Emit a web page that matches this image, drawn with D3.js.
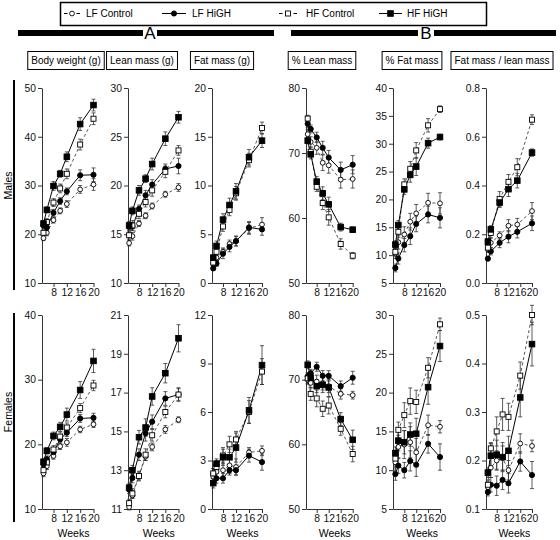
<!DOCTYPE html>
<html><head><meta charset="utf-8">
<script src="https://cdn.jsdelivr.net/npm/d3@7"></script>
<style>body{margin:0;background:#fff}svg{display:block;font-family:"Liberation Sans",Arial,Helvetica,sans-serif}</style>
</head><body><svg id="c" width="560" height="540"></svg>
<script>
// ---------------- DATA ----------------
const weeks = [5, 6, 8, 10, 12, 16, 20];
const weeksMaleRatio = [5, 6, 9, 12, 15, 20];
const seriesNames = ["LF Control", "LF HiGH", "HF Control", "HF HiGH"];
const panelTitles = ["Body weight (g)", "Lean mass (g)", "Fat mass (g)", "% Lean mass", "% Fat mass", "Fat mass / lean mass"];
const sectionLabels = ["A", "B"];
const rowLabels = ["Males", "Females"];
const xTickValues = [8, 12, 16, 20];
const xAxisLabel = "Weeks";
const yTicksMale = [[10,20,30,40,50],[10,15,20,25,30],[0,5,10,15,20],[50,60,70,80],[5,10,15,20,25,30,35,40],[0,0.2,0.4,0.6,0.8]];
const yTicksFemale = [[10,20,30,40],[11,13,15,17,19,21],[0,3,6,9,12],[50,60,70,80],[5,10,15,20,25,30],[0.1,0.2,0.3,0.4,0.5]];

// [mean, SE] per week ; series order: LF Control, LF HiGH, HF Control, HF HiGH
// Males - body weight
const mBW_LFC = [[19.2,.5],[20.3,.6],[22.9,.6],[24.8,.6],[26.2,.7],[29.2,.8],[30.2,1.2]];
const mBW_LFH = [[21.8,.6],[21.4,.6],[24.4,.7],[26.8,.7],[28.8,.7],[32.1,1.1],[32.2,1.4]];
const mBW_HFC = [[20.3,.6],[22.5,.7],[26.5,.8],[29.4,.9],[32.4,1.0],[38.4,1.1],[43.7,1.2]];
const mBW_HFH = [[22.2,.6],[25.0,.6],[29.9,.9],[32.4,.7],[35.9,1.0],[42.6,1.3],[46.5,1.2]];
// Males - lean mass
const mLM_LFC = [[14.1,.3],[14.8,.4],[16.1,.3],[16.9,.3],[17.9,.3],[19.1,.3],[19.8,.4]];
const mLM_LFH = [[15.8,.4],[15.8,.4],[17.6,.4],[19.0,.5],[20.1,.5],[21.7,.5],[22.0,.8]];
const mLM_HFC = [[14.9,.4],[15.9,.5],[17.1,.5],[18.3,.5],[19.5,.6],[21.4,.6],[23.6,.5]];
const mLM_HFH = [[15.9,.4],[17.4,.4],[19.5,.5],[20.7,.4],[22.2,.6],[24.8,.7],[27.0,.6]];
// Males - fat mass
const mFM_LFC = [[2.0,.2],[2.6,.3],[3.2,.4],[4.0,.4],[4.3,.5],[5.6,.6],[6.0,.7]];
const mFM_LFH = [[1.5,.2],[2.0,.3],[3.0,.5],[3.7,.5],[4.3,.5],[5.7,.6],[5.5,.6]];
const mFM_HFC = [[2.1,.3],[3.2,.4],[5.8,.5],[7.5,.6],[9.2,.7],[12.6,.7],[15.9,.6]];
const mFM_HFH = [[2.6,.3],[3.8,.5],[6.5,.6],[8.0,.7],[9.4,.8],[12.9,.8],[14.6,.7]];
// Males - % lean
const mPL_LFC = [[72.9,.7],[71.7,.8],[70.8,1.0],[68.5,1.2],[68.1,1.2],[65.9,1.3],[66.0,1.4]];
const mPL_LFH = [[74.5,.6],[73.7,.6],[72.4,.8],[70.8,1.0],[69.3,1.1],[67.4,1.2],[68.2,1.4]];
const mPL_HFC = [[75.3,.5],[70.2,.7],[64.8,.7],[62.3,1.0],[60.1,1.2],[56.0,.8],[54.2,.5]];
const mPL_HFH = [[71.9,.5],[69.8,.7],[65.6,.8],[63.8,1.0],[62.1,1.1],[58.6,.6],[58.2,.4]];
// Males - % fat
const mPF_LFC = [[10.3,.9],[12.3,1.2],[13.7,1.4],[16.0,1.5],[17.5,1.6],[19.4,1.7],[19.3,1.9]];
const mPF_LFH = [[7.7,.7],[9.4,1.0],[11.8,1.2],[13.4,1.5],[15.6,1.4],[17.3,1.5],[16.7,1.8]];
const mPF_HFC = [[10.6,.8],[14.2,1.0],[22.7,1.0],[25.5,1.3],[28.8,1.4],[33.3,1.2],[36.2,.6]];
const mPF_HFH = [[11.9,.7],[15.4,.8],[21.8,.9],[24.4,1.3],[25.9,1.6],[30.1,.9],[31.2,.5]];
// Males - fat / lean ratio
const mRT_LFC = [[.14,.015],[.165,.02],[.195,.015],[.235,.025],[.24,.025],[.295,.035]];
const mRT_LFH = [[.10,.008],[.13,.015],[.165,.02],[.19,.025],[.21,.025],[.245,.03]];
const mRT_HFC = [[.145,.015],[.205,.02],[.345,.03],[.415,.03],[.475,.035],[.67,.02]];
const mRT_HFH = [[.17,.012],[.22,.015],[.33,.02],[.385,.03],[.42,.03],[.535,.015]];
// Females - body weight
const fBW_LFC = [[15.5,.5],[16.6,.5],[18.2,.5],[19.7,.5],[20.3,.6],[22.3,.5],[23.1,.5]];
const fBW_LFH = [[16.9,.5],[17.7,.5],[18.8,.5],[20.8,.6],[21.8,.6],[24.0,.6],[24.1,.7]];
const fBW_HFC = [[16.0,.5],[17.2,.5],[19.2,.6],[21.2,.7],[22.6,.7],[25.6,.7],[29.1,.8]];
const fBW_HFH = [[17.3,.5],[19.0,.5],[21.3,.6],[22.7,.7],[24.6,1.0],[28.4,1.3],[32.9,1.8]];
// Females - lean mass
const fLM_LFC = [[11.1,.15],[11.7,.15],[12.7,.2],[13.7,.2],[14.2,.2],[15.1,.2],[15.6,.15]];
const fLM_LFH = [[12.0,.2],[12.6,.25],[13.8,.3],[14.9,.4],[15.5,.35],[16.7,.35],[16.9,.35]];
const fLM_HFC = [[11.3,.2],[11.8,.25],[12.7,.25],[13.8,.3],[14.8,.3],[16.0,.3],[16.9,.3]];
const fLM_HFH = [[12.1,.2],[13.0,.25],[14.7,.35],[15.2,.45],[16.8,.45],[18.0,.5],[19.8,.7]];
// Females - fat mass
const fFM_LFC = [[2.0,.3],[2.3,.4],[2.4,.5],[2.7,.5],[2.6,.5],[3.5,.3],[3.6,.3]];
const fFM_LFH = [[2.2,.3],[1.9,.3],[1.9,.3],[2.4,.3],[2.4,.3],[3.3,.4],[2.9,.5]];
const fFM_HFC = [[2.2,.3],[2.6,.4],[3.3,.5],[4.0,.5],[4.3,.5],[6.0,.7],[8.5,.8]];
const fFM_HFH = [[1.6,.3],[2.8,.3],[3.2,.5],[3.2,.5],[3.8,.9],[6.1,.8],[8.9,1.2]];
// Females - % lean
const fPL_LFC = [[70.0,.7],[69.5,.8],[69.7,1.0],[69.4,1.0],[69.0,1.0],[67.8,.8],[67.6,.6]];
const fPL_LFH = [[70.5,.6],[71.0,.6],[72.0,.7],[70.6,.8],[70.6,.8],[69.0,.8],[70.3,1.0]];
const fPL_HFC = [[70.2,.8],[67.8,1.0],[67.1,1.3],[65.5,1.2],[66.0,1.3],[62.4,1.0],[58.5,1.2]];
const fPL_HFH = [[72.3,.6],[70.3,.8],[69.0,1.0],[69.2,1.2],[68.8,1.4],[63.9,1.0],[60.7,1.5]];
// Females - % fat
const fPF_LFC = [[11.0,1.0],[13.0,1.5],[13.3,1.8],[13.6,2.0],[12.3,1.8],[15.8,1.3],[15.6,.8]];
const fPF_LFH = [[9.5,.8],[10.6,1.0],[10.0,1.0],[11.2,1.3],[10.7,1.5],[13.4,1.2],[11.7,1.7]];
const fPF_HFC = [[11.5,1.0],[15.2,1.0],[17.1,1.6],[18.9,1.7],[18.8,1.5],[23.2,1.3],[28.8,.8]];
const fPF_HFH = [[12.2,.8],[13.8,1.3],[13.6,1.5],[14.6,1.5],[14.7,2.0],[20.7,2.2],[26.0,2.0]];
// Females - fat / lean ratio
const fRT_LFC = [[.145,.01],[.185,.02],[.20,.02],[.205,.025],[.18,.02],[.235,.02],[.23,.012]];
const fRT_LFH = [[.135,.008],[.15,.015],[.148,.02],[.16,.02],[.153,.02],[.198,.02],[.17,.028]];
const fRT_HFC = [[.15,.01],[.225,.012],[.26,.03],[.295,.033],[.29,.028],[.375,.028],[.50,.02]];
const fRT_HFH = [[.175,.01],[.21,.025],[.212,.03],[.207,.03],[.22,.03],[.33,.04],[.44,.045]];

// ---------------- LAYOUT ----------------
const cols = [
  {x0:42,  x8:53.5,  x20:93.5, tc:66},
  {x0:128, x8:139,   x20:178.5, tc:142},
  {x0:212, x8:223,   x20:262,  tc:222},
  {x0:306, x8:316.7, x20:352.7, tc:322},
  {x0:393, x8:404.3, x20:440,  tc:412},
  {x0:486, x8:496.7, x20:532,  tc:502}
];
const rows = [{top:88, bot:283, line:[80,290]}, {top:315, bot:509, line:[313,522]}];

const panelData = [
  [[mBW_LFC,mBW_LFH,mBW_HFC,mBW_HFH],[mLM_LFC,mLM_LFH,mLM_HFC,mLM_HFH],[mFM_LFC,mFM_LFH,mFM_HFC,mFM_HFH],
   [mPL_LFC,mPL_LFH,mPL_HFC,mPL_HFH],[mPF_LFC,mPF_LFH,mPF_HFC,mPF_HFH],[mRT_LFC,mRT_LFH,mRT_HFC,mRT_HFH]],
  [[fBW_LFC,fBW_LFH,fBW_HFC,fBW_HFH],[fLM_LFC,fLM_LFH,fLM_HFC,fLM_HFH],[fFM_LFC,fFM_LFH,fFM_HFC,fFM_HFH],
   [fPL_LFC,fPL_LFH,fPL_HFC,fPL_HFH],[fPF_LFC,fPF_LFH,fPF_HFC,fPF_HFH],[fRT_LFC,fRT_LFH,fRT_HFC,fRT_HFH]]
];
const panelWeeks = [[weeks,weeks,weeks,weeks,weeks,weeksMaleRatio],[weeks,weeks,weeks,weeks,weeks,weeks]];
const yTicks = [yTicksMale, yTicksFemale];

const style = [
  {dash:"3,2.5", filled:false, shape:"circle", stroke:"#555"},
  {dash:null,    filled:true,  shape:"circle", stroke:"#000"},
  {dash:"3,2.5", filled:false, shape:"square", stroke:"#555"},
  {dash:null,    filled:true,  shape:"square", stroke:"#000"}
];

const svg = d3.select("#c");

function marker(g, shape, filled, cx, cy) {
  if (shape === "circle") {
    g.append("circle").attr("cx", cx).attr("cy", cy).attr("r", filled ? 2.6 : 2.4)
      .attr("fill", filled ? "#000" : "#fff").attr("stroke", "#000").attr("stroke-width", 0.9);
  } else {
    const s = filled ? 5.6 : 5;
    g.append("rect").attr("x", cx - s/2).attr("y", cy - s/2).attr("width", s).attr("height", s)
      .attr("fill", filled ? "#000" : "#fff").attr("stroke", "#000").attr("stroke-width", 0.9);
  }
}

// ---------------- LEGEND ----------------
const lg = svg.append("g");
lg.append("rect").attr("x", 60.5).attr("y", 2.5).attr("width", 426).attr("height", 23)
  .attr("fill", "none").attr("stroke", "#000").attr("stroke-width", 1.5);
const legendPos = [{s0:64,s1:80,t:86},{s0:162,s1:186,t:192},{s0:279,s1:297,t:306},{s0:379,s1:402,t:407}];
seriesNames.forEach((name, i) => {
  const p = legendPos[i], st = style[i], y = 13.5;
  const len = p.s1 - p.s0;
  lg.append("line").attr("x1", p.s0).attr("x2", p.s1).attr("y1", y).attr("y2", y)
    .attr("stroke", "#000").attr("stroke-width", 1)
    .attr("stroke-dasharray", st.dash ? `3.5,${len - 7}` : null);
  marker(lg, st.shape, st.filled, (p.s0 + p.s1) / 2, y);
  lg.append("text").attr("x", p.t).attr("y", y).attr("dy", "0.35em").attr("font-size", 10).text(name);
});

// ---------------- SECTION BARS ----------------
const sections = [
  {label: sectionLabels[0], l0:18, l1:143, c:150, r0:157, r1:274},
  {label: sectionLabels[1], l0:291, l1:418, c:426, r0:434, r1:556}
];
sections.forEach(s => {
  svg.append("rect").attr("x", s.l0).attr("y", 30).attr("width", s.l1 - s.l0).attr("height", 6).attr("fill", "#000");
  svg.append("rect").attr("x", s.r0).attr("y", 30).attr("width", s.r1 - s.r0).attr("height", 6).attr("fill", "#000");
  svg.append("text").attr("x", s.c).attr("y", 33).attr("dy", "0.36em").attr("text-anchor", "middle")
    .attr("font-size", 17).text(s.label);
});

// ---------------- PANEL TITLES ----------------
panelTitles.forEach((t, i) => {
  const tg = svg.append("g");
  const box = tg.append("rect");
  const txt = tg.append("text").attr("x", cols[i].tc).attr("y", 60.5).attr("dy", "0.35em")
    .attr("text-anchor", "middle").attr("font-size", 10).text(t);
  const w = txt.node().getComputedTextLength();
  box.attr("x", cols[i].tc - w/2 - 3.5).attr("y", 51.5).attr("width", w + 7).attr("height", 18)
    .attr("fill", "#fff").attr("stroke", "#000").attr("stroke-width", 1);
});

// ---------------- ROW LABELS ----------------
rows.forEach((r, ri) => {
  svg.append("line").attr("x1", 14).attr("x2", 14).attr("y1", r.line[0]).attr("y2", r.line[1])
    .attr("stroke", "#000").attr("stroke-width", 2);
  const cy = (r.top + r.bot) / 2;
  svg.append("text").attr("transform", `translate(8,${cy}) rotate(-90)`).attr("text-anchor", "middle")
    .attr("dy", "0.35em").attr("font-size", 10.5).text(rowLabels[ri]);
});

// ---------------- PANELS ----------------
rows.forEach((r, ri) => {
  cols.forEach((c, ci) => {
    const g = svg.append("g");
    const ticks = yTicks[ri][ci];
    const pxPerWeek = (c.x20 - c.x8) / 12;
    const xStart = 8 - (c.x8 - c.x0) / pxPerWeek;
    const x = d3.scaleLinear().domain([xStart, 20]).range([c.x0, c.x20]);
    const y = d3.scaleLinear().domain([ticks[0], ticks[ticks.length - 1]]).range([r.bot, r.top]);
    const fmt = ci === 5 ? d3.format(".1f") : d3.format("d");

    const ya = g.append("g").attr("transform", `translate(${c.x0},0)`)
      .call(d3.axisLeft(y).tickValues(ticks).tickFormat(fmt).tickSize(4).tickSizeOuter(0).tickPadding(2));
    const xa = g.append("g").attr("transform", `translate(0,${r.bot})`)
      .call(d3.axisBottom(x).tickValues(xTickValues).tickSize(4).tickSizeOuter(0).tickPadding(2));
    [ya, xa].forEach(a => {
      a.selectAll("path,line").attr("stroke", "#333").attr("stroke-width", 1);
      a.selectAll("text").attr("font-size", 10.3).attr("fill", "#111").attr("font-family", "Liberation Sans, Arial, sans-serif");
    });

    if (ri === 1) {
      g.append("text").attr("x", (x(8) + x(20)) / 2 ).attr("y", 533).attr("dy", "0.35em")
        .attr("text-anchor", "middle").attr("font-size", 10.5).text(xAxisLabel);
    }

    const wk = panelWeeks[ri][ci];
    const series = panelData[ri][ci];
    const line = d3.line().x((d, i) => x(wk[i])).y(d => y(d[0]));
    series.forEach((s, si) => {
      const st = style[si];
      g.append("path").attr("d", line(s)).attr("fill", "none").attr("stroke", st.stroke)
        .attr("stroke-width", 1).attr("stroke-dasharray", st.dash);
    });
    series.forEach((s, si) => {
      s.forEach((d, i) => {
        const cx = x(wk[i]);
        const y1 = y(d[0] - d[1]), y2 = y(d[0] + d[1]);
        g.append("line").attr("x1", cx).attr("x2", cx).attr("y1", y1).attr("y2", y2).attr("stroke", "#333").attr("stroke-width", 0.8);
        [y1, y2].forEach(yy => g.append("line").attr("x1", cx - 2).attr("x2", cx + 2).attr("y1", yy).attr("y2", yy)
          .attr("stroke", "#333").attr("stroke-width", 0.8));
      });
    });
    series.forEach((s, si) => {
      const st = style[si];
      s.forEach((d, i) => marker(g, st.shape, st.filled, x(wk[i]), y(d[0])));
    });
  });
});
</script></body></html>
